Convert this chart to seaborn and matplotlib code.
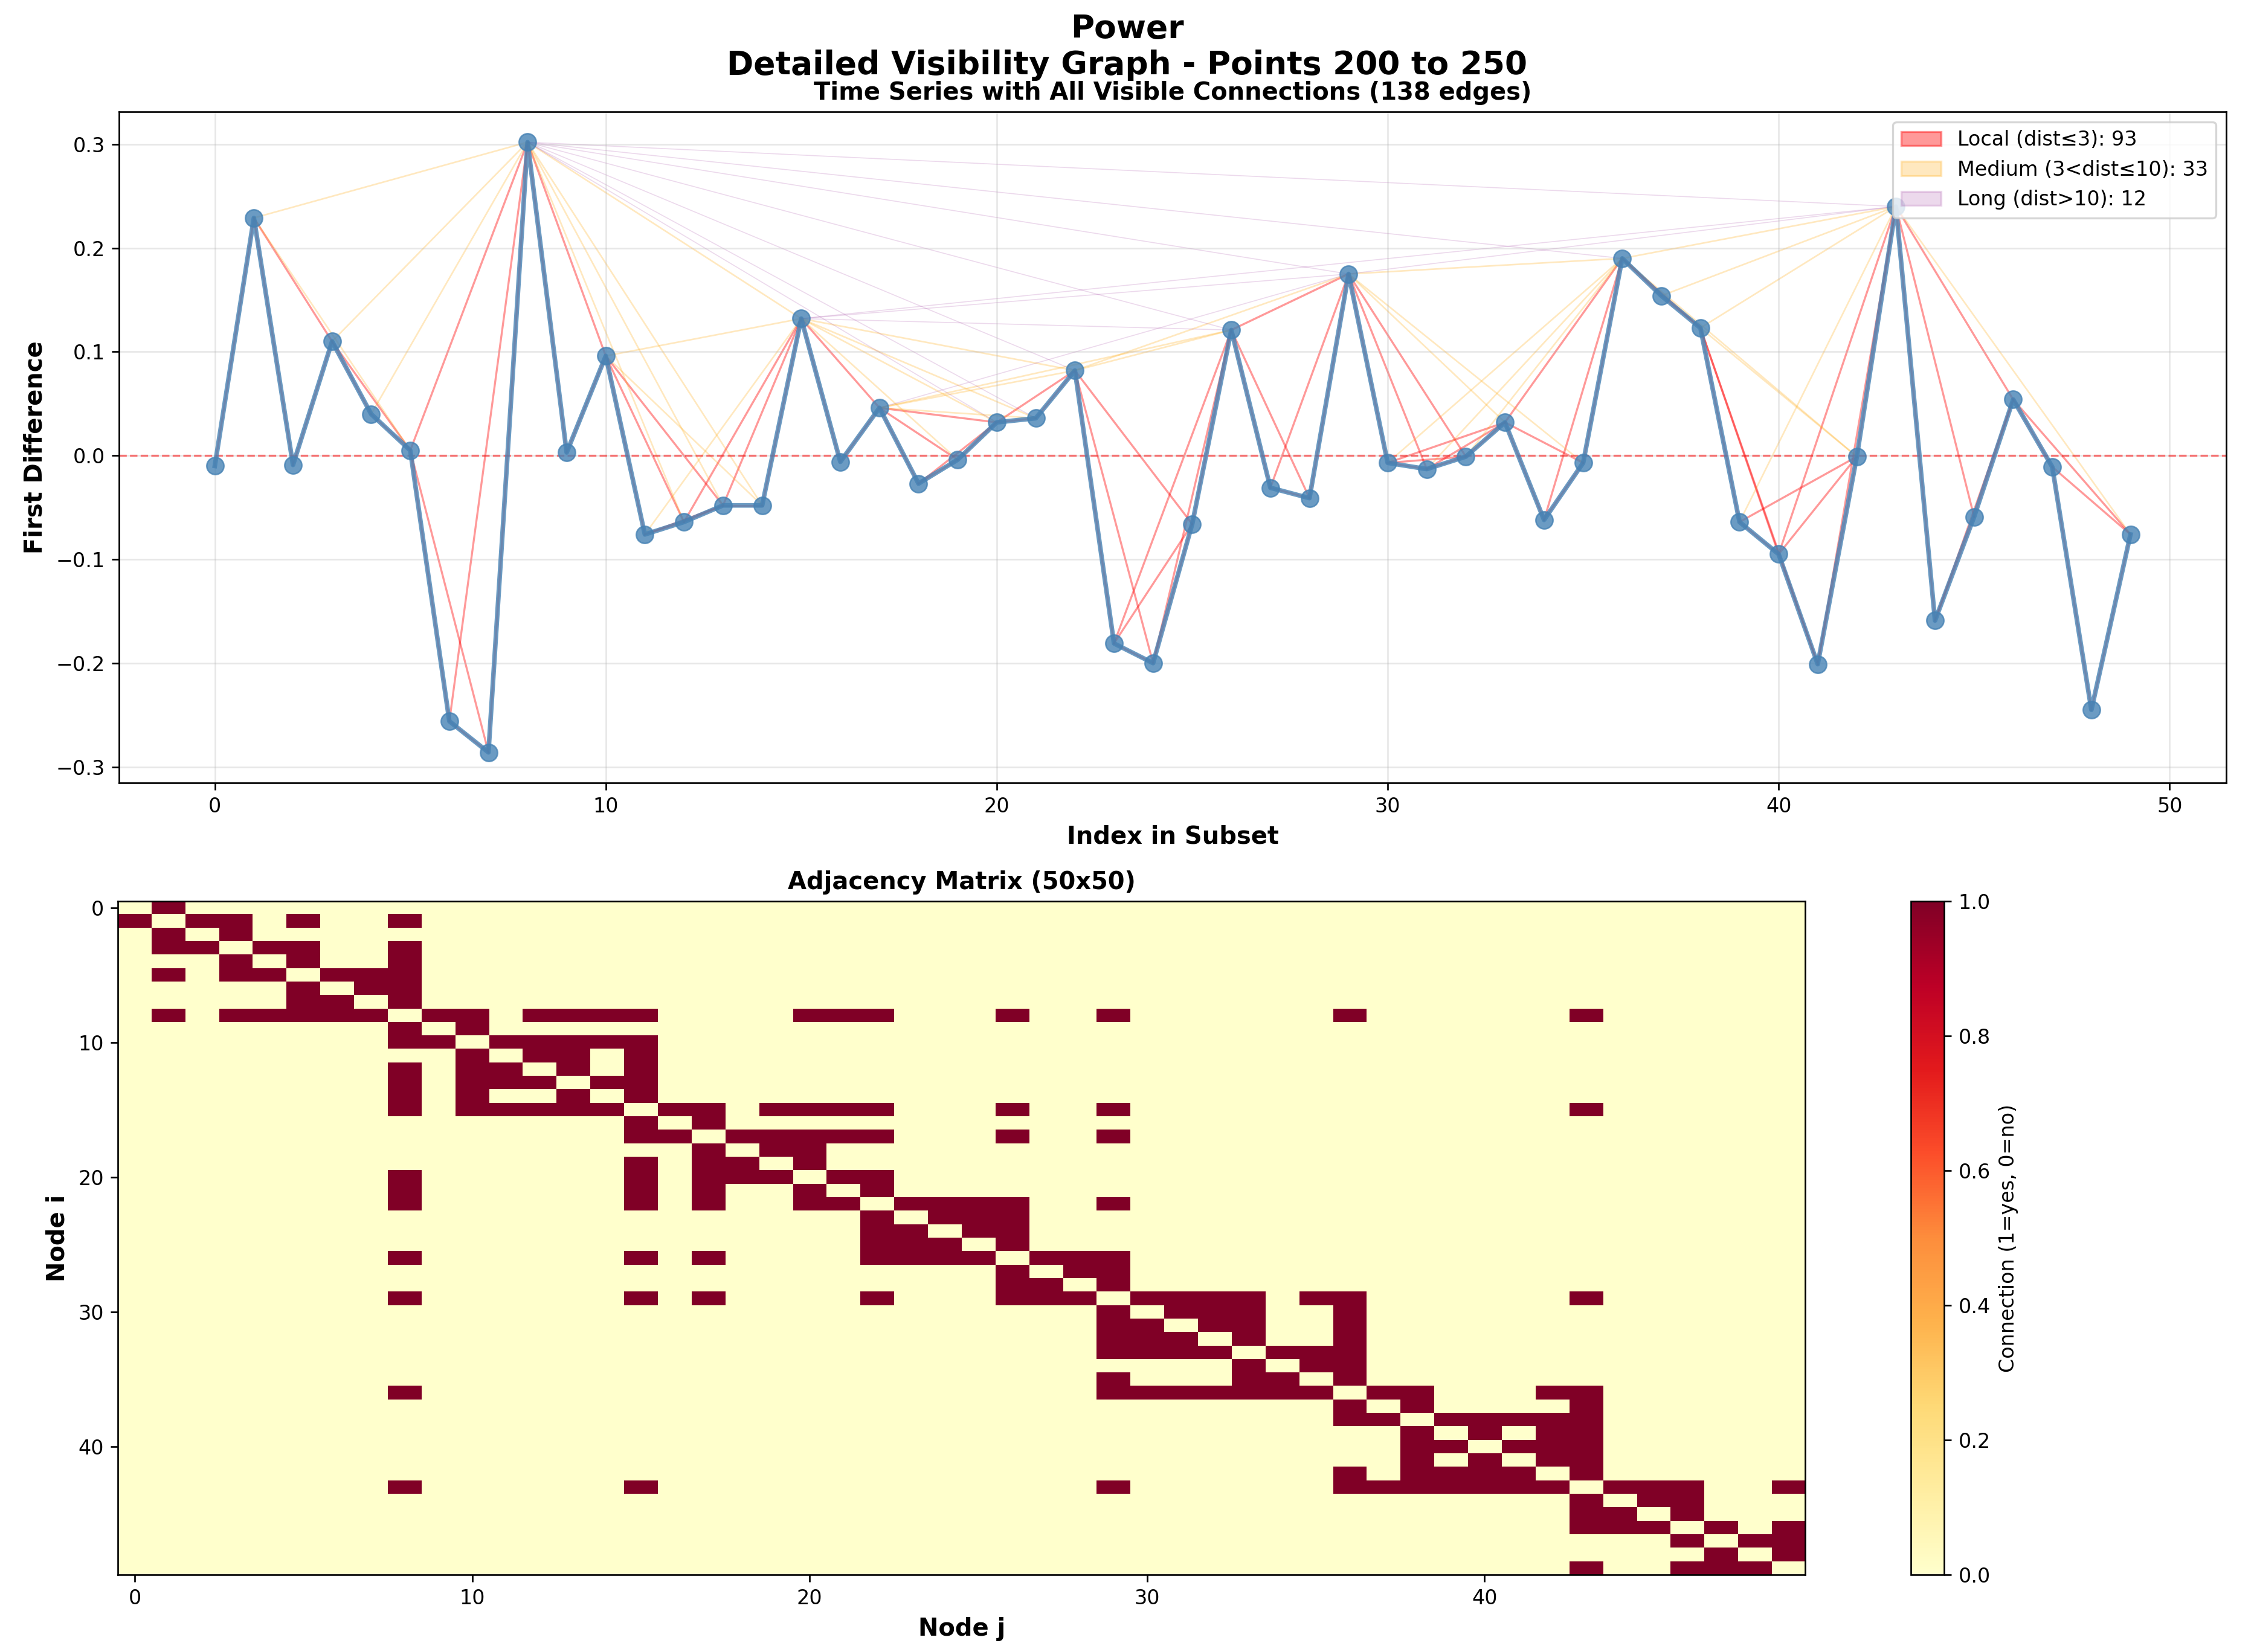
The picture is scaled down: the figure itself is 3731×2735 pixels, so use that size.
import numpy as np
import pandas as pd
import matplotlib
matplotlib.use("Agg")
import matplotlib.pyplot as plt
from matplotlib.patches import Patch
import seaborn as sns

# first differences, points 200..250 of the Power series
values = [-0.010, 0.229, -0.009, 0.110, 0.040, 0.005, -0.256, -0.286, 0.302, 0.003,
          0.096, -0.076, -0.064, -0.048, -0.048, 0.132, -0.006, 0.046, -0.027, -0.004,
          0.032, 0.036, 0.082, -0.181, -0.200, -0.066, 0.121, -0.031, -0.041, 0.175,
          -0.007, -0.013, -0.001, 0.032, -0.062, -0.007, 0.190, 0.154, 0.123, -0.064,
          -0.095, -0.201, -0.001, 0.240, -0.159, -0.059, 0.054, -0.011, -0.245, -0.076]
start, stop = 200, 250
series_name = "Power"

y = np.array(values)
n = len(y)
idx = np.arange(n)


# natural visibility graph
def visible(a, b):
    for c in range(a + 1, b):
        if y[c] >= y[b] + (y[a] - y[b]) * (b - c) / (b - a):
            return False
    return True


edges = [(a, b) for a in range(n) for b in range(a + 1, n) if visible(a, b)]
adj = np.zeros((n, n))
for a, b in edges:
    adj[a, b] = adj[b, a] = 1

local = [e for e in edges if e[1] - e[0] <= 3]
medium = [e for e in edges if 3 < e[1] - e[0] <= 10]
far = [e for e in edges if e[1] - e[0] > 10]

fig = plt.figure(figsize=(3731 / 240, 2735 / 240), dpi=240)
ax1 = fig.add_axes([0.0528, 0.5261, 0.9349, 0.4063])
ax2 = fig.add_axes([0.0523, 0.0468, 0.7486, 0.4077])
cax = fig.add_axes([0.8477, 0.0468, 0.0148, 0.4077])

# edges first
for a, b in local:
    ax1.plot([a, b], [y[a], y[b]], color="red", alpha=0.4, linewidth=1.0, zorder=1)
for a, b in medium:
    ax1.plot([a, b], [y[a], y[b]], color="orange", alpha=0.25, linewidth=0.8, zorder=1)
for a, b in far:
    ax1.plot([a, b], [y[a], y[b]], color="purple", alpha=0.15, linewidth=0.5, zorder=1)

df = pd.DataFrame({"idx": idx, "val": y})
sns.lineplot(data=df, x="idx", y="val", ax=ax1, color="steelblue", linewidth=2.3,
             marker="o", markersize=8.5, markeredgecolor="steelblue",
             alpha=0.8, zorder=3)
ax1.axhline(0, color="red", linestyle="--", linewidth=1, alpha=0.5)
ax1.set_xlabel("Index in Subset", fontsize=12, fontweight="bold")
ax1.set_ylabel("First Difference", fontsize=12, fontweight="bold")
ax1.set_title(f"Time Series with All Visible Connections ({len(edges)} edges)",
              fontsize=12, fontweight="bold")
ax1.grid(True, alpha=0.3)
handles = [Patch(color="red", alpha=0.4, label=f"Local (dist≤3): {len(local)}"),
           Patch(color="orange", alpha=0.25, label=f"Medium (3<dist≤10): {len(medium)}"),
           Patch(color="purple", alpha=0.15, label=f"Long (dist>10): {len(far)}")]
ax1.legend(handles=handles, loc="upper right", fontsize=10)

im = ax2.imshow(adj, cmap="YlOrRd", aspect="auto", interpolation="nearest")
ax2.set_title(f"Adjacency Matrix ({n}x{n})", fontsize=12, fontweight="bold")
ax2.set_xlabel("Node j", fontsize=12, fontweight="bold")
ax2.set_ylabel("Node i", fontsize=12, fontweight="bold")
cb = fig.colorbar(im, cax=cax)
cb.set_label("Connection (1=yes, 0=no)", fontsize=10)

fig.suptitle(f"{series_name}\nDetailed Visibility Graph - Points {start} to {stop}",
             fontsize=16, fontweight="bold", y=0.992)
fig.savefig("out.png", dpi=240)
